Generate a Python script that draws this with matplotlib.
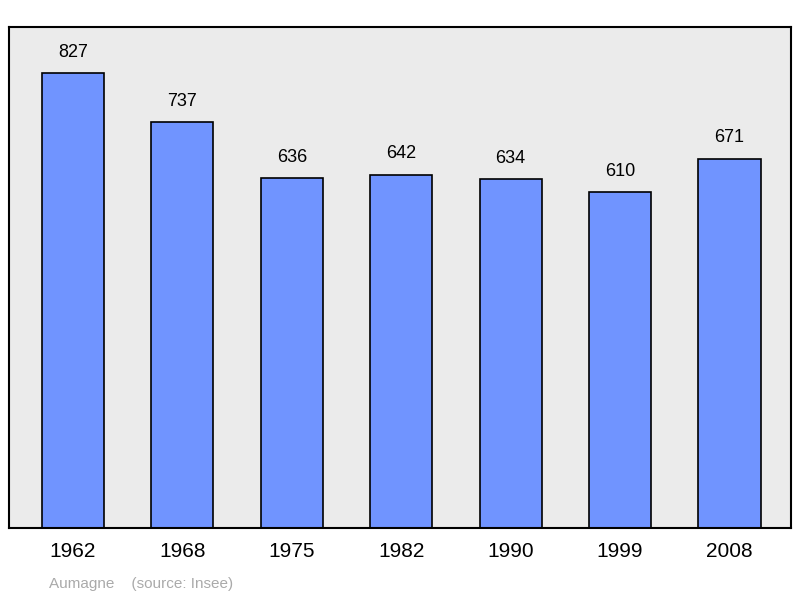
import matplotlib
matplotlib.use("Agg")
import matplotlib.pyplot as plt

years = ["1962", "1968", "1975", "1982", "1990", "1999", "2008"]
population = [827, 737, 636, 642, 634, 610, 671]

plt.rcParams['font.family'] = ['Liberation Sans', 'DejaVu Sans']
fig = plt.figure(figsize=(8, 5.98), dpi=100)
ax = fig.add_axes([9/800, 70/598, 782/800, 501/598])
ax.set_facecolor('#ebebeb')
x = list(range(len(years)))
ax.bar(x, population, width=0.567, color='#7094ff', edgecolor='black', linewidth=1.2)
for xi, v in zip(x, population):
    ax.text(xi, v + 22, str(v), ha='center', va='bottom', fontsize=13)
ax.set_xlim(-0.585, 6.562)
ax.set_ylim(0, 910)
ax.set_yticks([])
ax.set_xticks(x)
ax.set_xticklabels(years, fontsize=15)
ax.tick_params(axis='x', length=0, pad=10)
for s in ax.spines.values():
    s.set_linewidth(1.5)
fig.text(49/800, 1 - 584/598, "Aumagne    (source: Insee)", color='#aaaaaa', fontsize=11, va='center')
fig.savefig("out.png", dpi=100)
